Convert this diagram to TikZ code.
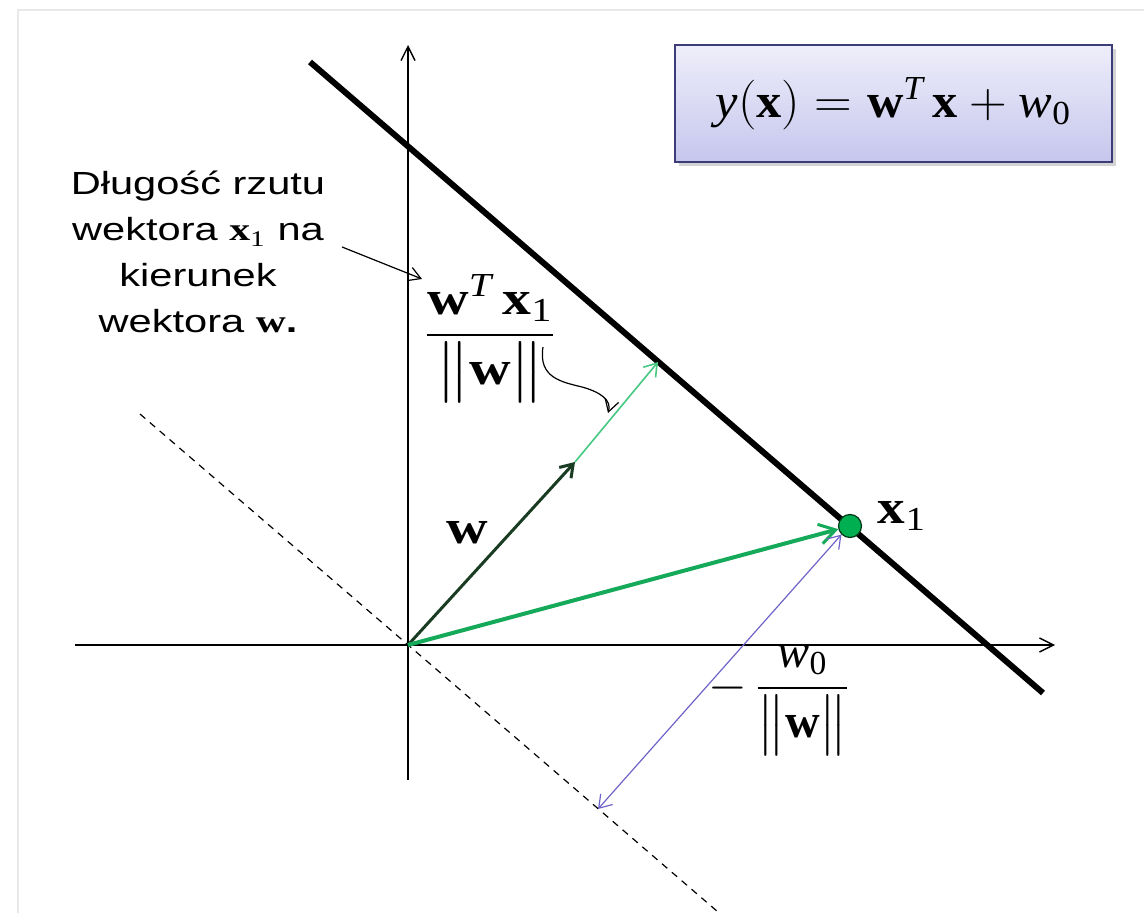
\documentclass[tikz,border=0pt]{standalone}
\usepackage{amsmath}
\usepackage{fontspec}
\setmainfont{Liberation Serif}
\newfontfamily\descfont{Liberation Sans}
\usepackage{graphicx}
\usetikzlibrary{arrows.meta,shadows}
\definecolor{dotgreen}{RGB}{0,176,80}
\definecolor{vecgreen}{RGB}{20,170,90}
\definecolor{lightgreen}{RGB}{70,200,130}
\definecolor{wdark}{RGB}{25,60,35}
\definecolor{projblue}{RGB}{110,100,200}
\definecolor{boxtop}{RGB}{238,238,250}
\definecolor{boxbot}{RGB}{198,198,238}
\definecolor{boxedge}{RGB}{60,60,120}
\newcommand\sx[2][1.32]{\scalebox{#1}[1]{#2}}
\newcommand\bv[1]{\text{\normalfont\bfseries #1}}
\newcommand\iv[1]{\text{\normalfont\itshape #1}}
\newcommand\rv[1]{\text{\normalfont #1}}
\begin{document}
\begin{tikzpicture}[x=0.5pt,y=-0.5pt,
  axis/.style={line width=0.7pt,-{Straight Barb[length=7pt,width=7pt]}},
  mainline/.style={line width=3pt,black},
  dashline/.style={line width=0.6pt,dash pattern=on 3.5pt off 3pt},
  vecx/.style={line width=2pt,vecgreen,-{Straight Barb[length=8pt,width=10pt,line width=1.5pt]}},
  vecw/.style={line width=1.5pt,wdark,-{Straight Barb[length=6pt,width=8pt]}},
  vecproj/.style={line width=0.8pt,lightgreen,-{Straight Barb[length=6pt,width=8pt]}},
  vecoff/.style={line width=0.6pt,projblue,{Straight Barb[length=6pt,width=8pt]}-{Straight Barb[length=6pt,width=8pt]}},
  pointer/.style={line width=0.6pt,black,-{Straight Barb[length=6pt,width=7pt]}},
  mathlbl/.style={inner sep=0pt,font=\fontsize{24}{28}\selectfont},
  desclbl/.style={inner sep=0pt,font=\fontsize{16}{23}\selectfont\descfont},
  eqbox/.style={draw=boxedge,line width=0.8pt,top color=boxtop,bottom color=boxbot,
    drop shadow={opacity=0.35,shadow xshift=2pt,shadow yshift=-2pt},
    minimum width=218.5pt,minimum height=58.5pt,inner sep=0pt},
  xdot/.style={circle,fill=dotgreen,draw=black!70!dotgreen,line width=0.6pt,minimum size=11.5pt,inner sep=0pt}
]
\useasboundingbox (0,0) rectangle (1144,913);
% faint slide frame
\draw[gray!18,line width=1pt] (18,913) -- (18,10) -- (1144,10);

% coordinates
\coordinate (O) at (408,645);
\coordinate (ybot) at (408,780);
\coordinate (ytop) at (408,45);
\coordinate (xleft) at (75,645);
\coordinate (xright) at (1055,645);
\coordinate (L1) at (310,62);
\coordinate (L2) at (1043,693);
\coordinate (D1) at (140,414);
\coordinate (D2) at (718,912);
\coordinate (wtip) at (575,462);
\coordinate (ptip) at (658,362);
\coordinate (bstart) at (598,809);

% axes
\draw[axis] (ybot) -- (ytop);
\draw[axis] (xleft) -- (xright);

% lines
\draw[dashline] (D1) -- (D2);
\draw[mainline] (L1) -- (L2);

% point x1
\node[xdot] (x1) at (850,526) {};

% vectors
\draw[vecproj] (wtip) -- (ptip);
\draw[vecw] (O) -- (wtip);
\draw[vecx] (O) -- (x1);
\draw[vecoff] (bstart) -- (x1.south west);

% labels
\node[mathlbl] (x1lbl) at (902,516) {\sx[1.15]{$\bv{x}_{\rv{1}}$}};
\node[mathlbl] (wlbl) at (467,533) {\sx[1.2]{$\bv{w}$}};
\node[mathlbl] (projlbl) at (490,338) {\sx[1.2]{$\dfrac{\bv{w}^{\iv{T}}\,\bv{x}_{\rv{1}}}{\big\|\bv{w}\big\|}$}};
\node[mathlbl] (offlbl) at (779,700) {\sx[1.0]{$-\,\dfrac{\iv{w}_{\rv{0}}}{\big\|\bv{w}\big\|}$}};

% formula box
\node[eqbox,mathlbl] (eq) at (893.5,103.5) {\sx[1.05]{$\iv{y}(\bv{x}) = \bv{w}^{\iv{T}}\,\bv{x} + \iv{w}_{\rv{0}}$}};

% description
\node[desclbl,anchor=base] (desc) at (198,195) {\sx[1.3]{\begin{tabular}[t]{@{}c@{}}Długość rzutu\\wektora $\bv{x}_{\rv{1}}$ na\\kierunek\\wektora $\bv{w}$\textbf{.}\end{tabular}}};

% pointers
\coordinate (da) at (342,247);
\coordinate (db) at (422,279);
\draw[pointer] (da) -- (db);
\coordinate (wv1) at (543,347);
\coordinate (wv2) at (608,413);
\draw[pointer] (wv1) .. controls (538,378) and (562,382) .. (582,387) .. controls (600,392) and (612,400) .. (wv2);
\end{tikzpicture}
\end{document}
